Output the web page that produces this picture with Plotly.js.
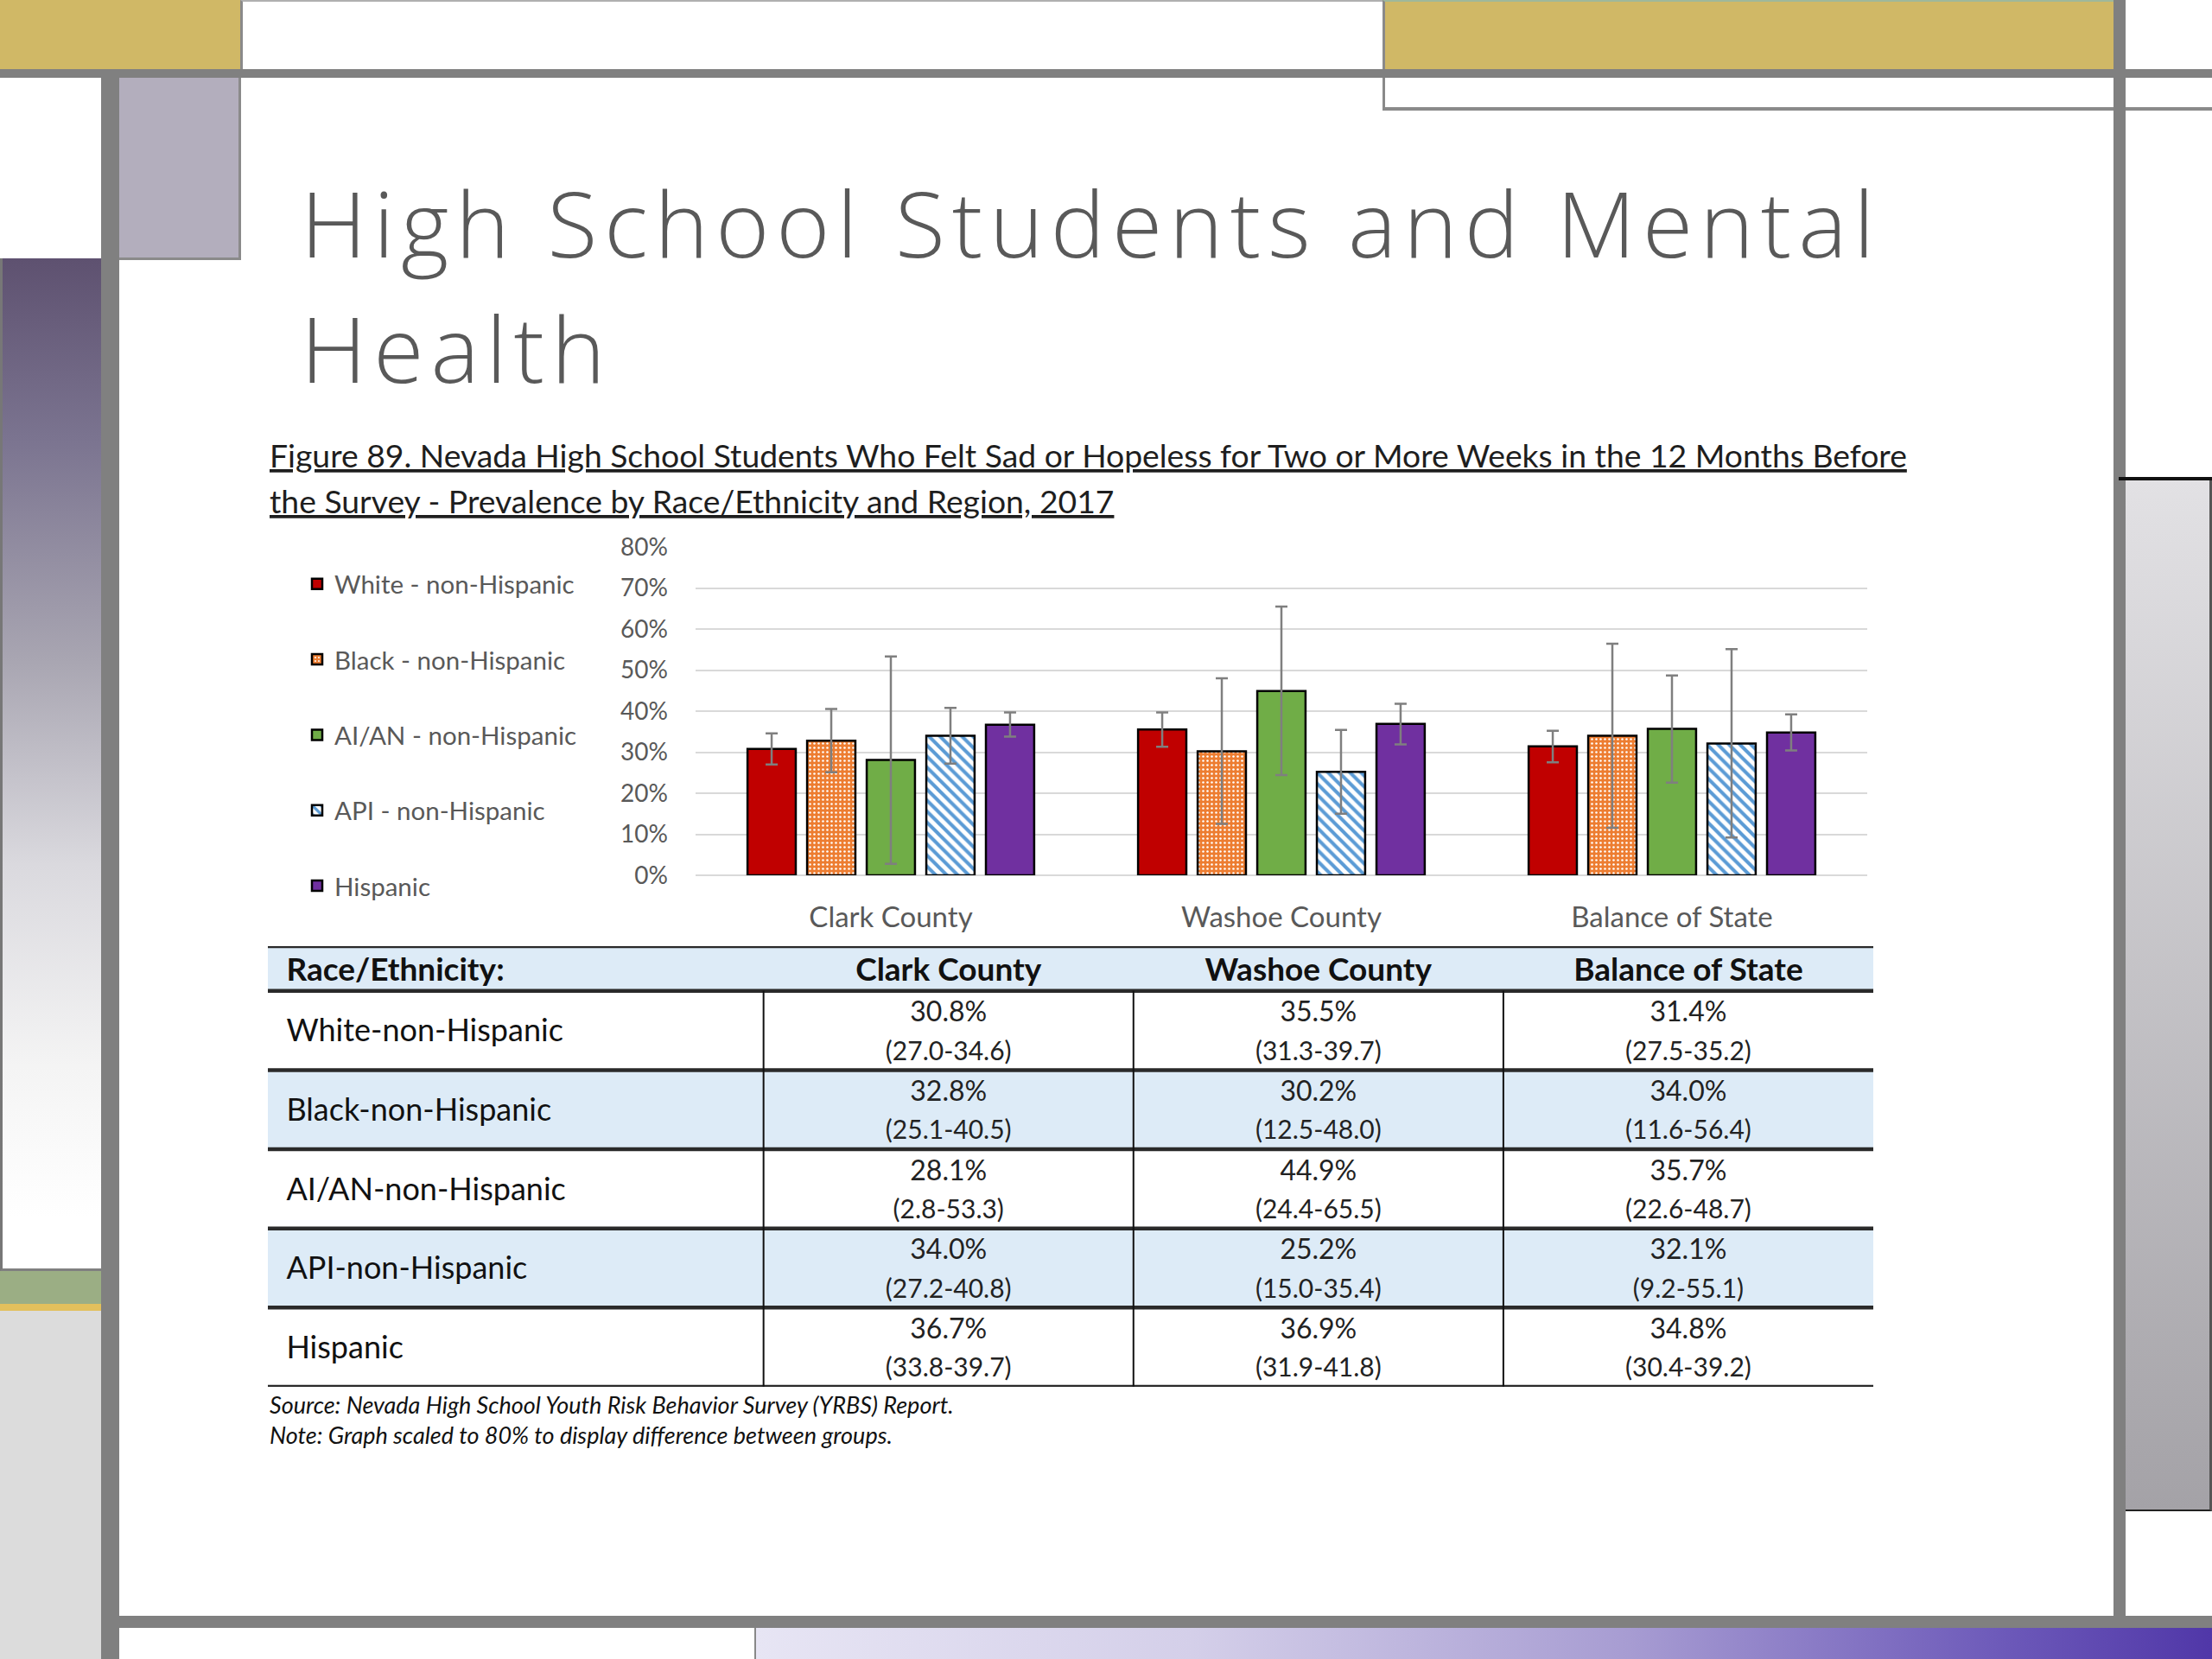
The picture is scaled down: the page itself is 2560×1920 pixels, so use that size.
<!DOCTYPE html>
<html><head><meta charset="utf-8">
<script src="https://cdn.plot.ly/plotly-3.0.1.min.js"></script>
<style>
html,body{margin:0;padding:0;background:#fff;}
#stage{position:relative;width:2560px;height:1920px;overflow:hidden;background:#fff;}
.d{position:absolute;box-sizing:border-box;}
#chart{position:absolute;left:0;top:0;width:2560px;height:1920px;z-index:5;}
#chart g.annotation[data-index="0"] text.annotation-text{letter-spacing:8px;}
</style></head><body>
<div id="stage">
<div class="d" style="left:0;top:0;width:278px;height:80px;background:#D0B866;"></div>
<div class="d" style="left:278px;top:0;width:1322px;height:80px;background:#fff;border-top:2px solid #b0b0b0;border-left:3px solid #8a8a8a;"></div>
<div class="d" style="left:1600px;top:0;width:846px;height:80px;background:#D0B866;border-left:3px solid #8a8a8a;border-top:2px solid #9fb89a;"></div>
<div class="d" style="left:0;top:80px;width:2560px;height:10px;background:#808080;"></div>
<div class="d" style="left:1600px;top:90px;width:960px;height:38px;border-left:3px solid #8a8a8a;border-bottom:4px solid #8a8a8a;"></div>
<div class="d" style="left:138px;top:90px;width:141px;height:211px;background:#B3AEBD;border-right:3px solid #8a8a8a;border-bottom:3px solid #8a8a8a;"></div>
<div class="d" style="left:0;top:299px;width:117px;height:1172px;background:linear-gradient(to bottom,#5E5170 0%,#7B7490 18%,#A9A6B2 40%,#DAD9DE 60%,#F4F4F4 80%,#FFFFFF 95%);border-left:3px solid #777;border-bottom:3px solid #808080;"></div>
<div class="d" style="left:0;top:1471px;width:117px;height:38px;background:#9BAE84;"></div>
<div class="d" style="left:0;top:1509px;width:128px;height:8px;background:#E2C05C;"></div>
<div class="d" style="left:0;top:1517px;width:117px;height:403px;background:#DCDCDC;"></div>
<div class="d" style="left:117px;top:90px;width:21px;height:1830px;background:#808080;"></div>
<div class="d" style="left:2446px;top:0;width:14px;height:1884px;background:#808080;"></div>
<div class="d" style="left:2452px;top:552px;width:108px;height:4px;background:#111;"></div>
<div class="d" style="left:2460px;top:556px;width:100px;height:1193px;background:linear-gradient(to bottom,#E2E1E4,#A4A2A7);border-right:3px solid #555;border-bottom:2px solid #222;"></div>
<div class="d" style="left:117px;top:1870px;width:2443px;height:14px;background:#808080;"></div>
<div class="d" style="left:873px;top:1884px;width:1687px;height:36px;background:linear-gradient(to right,#E7E5F4 0%,#D4CFE9 30%,#A79CD2 60%,#6E5BBA 85%,#5037A8 100%);border-left:2px solid #888;"></div>
<div id="chart"></div>
</div>
<script>
// ---------------- DATA ----------------
const regions = ['Clark County', 'Washoe County', 'Balance of State'];
const groupNames = ['White - non-Hispanic', 'Black - non-Hispanic', 'AI/AN - non-Hispanic', 'API - non-Hispanic', 'Hispanic'];
const tableRowLabels = ['White-non-Hispanic', 'Black-non-Hispanic', 'AI/AN-non-Hispanic', 'API-non-Hispanic', 'Hispanic'];
const tableFirstHeader = 'Race/Ethnicity:';

const whiteVals = [30.8, 35.5, 31.4];
const whiteLow  = [27.0, 31.3, 27.5];
const whiteHigh = [34.6, 39.7, 35.2];

const blackVals = [32.8, 30.2, 34.0];
const blackLow  = [25.1, 12.5, 11.6];
const blackHigh = [40.5, 48.0, 56.4];

const aianVals = [28.1, 44.9, 35.7];
const aianLow  = [2.8, 24.4, 22.6];
const aianHigh = [53.3, 65.5, 48.7];

const apiVals = [34.0, 25.2, 32.1];
const apiLow  = [27.2, 15.0, 9.2];
const apiHigh = [40.8, 35.4, 55.1];

const hispVals = [36.7, 36.9, 34.8];
const hispLow  = [33.8, 31.9, 30.4];
const hispHigh = [39.7, 41.8, 39.2];

const titleLines = ['High School Students and Mental', 'Health'];
const captionLines = ['Figure 89. Nevada High School Students Who Felt Sad or Hopeless for Two or More Weeks in the 12 Months Before',
                      'the Survey - Prevalence by Race/Ethnicity and Region, 2017'];
const noteLines = ['Source: Nevada High School Youth Risk Behavior Survey (YRBS) Report.',
                   'Note: Graph scaled to 80% to display difference between groups.'];

// ---------------- STYLE ----------------
const FONT = 'Lato, "Open Sans", "Liberation Sans", sans-serif';
const TITLE_FONT = '"Open Sans", Lato, sans-serif';
const series = [
  {vals: whiteVals, low: whiteLow, high: whiteHigh},
  {vals: blackVals, low: blackLow, high: blackHigh},
  {vals: aianVals,  low: aianLow,  high: aianHigh},
  {vals: apiVals,   low: apiLow,   high: apiHigh},
  {vals: hispVals,  low: hispLow,  high: hispHigh}
];
const styles = [
  {color: '#C00000'},
  {color: '#ED7D31', pattern: {shape: '.', fgcolor: '#FFFFFF', bgcolor: '#ED7D31', size: 5, solidity: 0.2}},
  {color: '#70AD47'},
  {color: '#FFFFFF', pattern: {shape: '\\', fgcolor: '#5B9BD5', bgcolor: '#FFFFFF', size: 9, solidity: 0.45}},
  {color: '#7030A0'}
];

const traces = [];
series.forEach((s, k) => {
  const marker = {color: styles[k].color, line: {color: '#000000', width: 2.5}};
  if (styles[k].pattern) marker.pattern = styles[k].pattern;
  traces.push({
    type: 'bar', name: groupNames[k], x: regions, y: s.vals,
    legendgroup: 'g' + k,
    marker: marker,
    error_y: {type: 'data', symmetric: false,
      array: s.vals.map((v, i) => +(s.high[i] - v).toFixed(2)),
      arrayminus: s.vals.map((v, i) => +(v - s.low[i]).toFixed(2)),
      color: '#7F7F7F', thickness: 2.5, width: 7},
    xaxis: 'x', yaxis: 'y', hoverinfo: 'skip'
  });
});

// ---------------- TABLE (on its own hidden axes) ----------------
const LABEL_LEFT = -0.84;      // left edge of label column (column units)
const HEADER_TOP = -0.065;     // top of header (row units)
const VAL_OFF = -0.2;          // vertical offset of value line in a row
const CI_OFF = 0.29;           // vertical offset of interval line in a row
const LABEL_OFF = 0.04;
const rowIdx = tableRowLabels.map((_, i) => i + 1);
const headerY = (HEADER_TOP + 0.5) / 2 + 0.05;
const fmt = v => v.toFixed(1);

traces.push({
  type: 'scatter', mode: 'text', xaxis: 'x2', yaxis: 'y2', showlegend: false, hoverinfo: 'skip', cliponaxis: false,
  x: [LABEL_LEFT + 0.05], y: [headerY], text: ['<b>' + tableFirstHeader + '</b>'],
  textposition: 'middle right', textfont: {family: FONT, size: 37, color: '#111111'}
});
traces.push({
  type: 'scatter', mode: 'text', xaxis: 'x2', yaxis: 'y2', showlegend: false, hoverinfo: 'skip', cliponaxis: false,
  x: regions.map((_, j) => j + 1), y: regions.map(() => headerY), text: regions.map(r => '<b>' + r + '</b>'),
  textposition: 'middle center', textfont: {family: FONT, size: 37, color: '#111111'}
});
traces.push({
  type: 'scatter', mode: 'text', xaxis: 'x2', yaxis: 'y2', showlegend: false, hoverinfo: 'skip', cliponaxis: false,
  x: rowIdx.map(() => LABEL_LEFT + 0.05), y: rowIdx.map(i => i + LABEL_OFF), text: tableRowLabels,
  textposition: 'middle right', textfont: {family: FONT, size: 36, color: '#111111'}
});
const vx = [], vy = [], vt = [], cx = [], cy = [], ct = [];
series.forEach((s, i) => {
  regions.forEach((r, j) => {
    vx.push(j + 1); vy.push(i + 1 + VAL_OFF); vt.push(fmt(s.vals[j]) + '%');
    cx.push(j + 1); cy.push(i + 1 + CI_OFF); ct.push('(' + fmt(s.low[j]) + '-' + fmt(s.high[j]) + ')');
  });
});
traces.push({type: 'scatter', mode: 'text', xaxis: 'x2', yaxis: 'y2', showlegend: false, hoverinfo: 'skip', cliponaxis: false,
  x: vx, y: vy, text: vt, textposition: 'middle center', textfont: {family: FONT, size: 32, color: '#222222'}});
traces.push({type: 'scatter', mode: 'text', xaxis: 'x2', yaxis: 'y2', showlegend: false, hoverinfo: 'skip', cliponaxis: false,
  x: cx, y: cy, text: ct, textposition: 'middle center', textfont: {family: FONT, size: 30, color: '#222222'}});

const shapes = [];
const TABLE_RIGHT = regions.length + 0.5;
const BAND = '#DDEBF7';
shapes.push({type: 'rect', xref: 'x2', yref: 'y2', x0: LABEL_LEFT, x1: TABLE_RIGHT, y0: HEADER_TOP, y1: 0.5, fillcolor: BAND, line: {width: 0}, layer: 'below'});
rowIdx.forEach(i => {
  if (i % 2 === 0) shapes.push({type: 'rect', xref: 'x2', yref: 'y2', x0: LABEL_LEFT, x1: TABLE_RIGHT, y0: i - 0.5, y1: i + 0.5, fillcolor: BAND, line: {width: 0}, layer: 'below'});
});
[HEADER_TOP, 0.5].concat(rowIdx.map(i => i + 0.5)).forEach(yv => {
  shapes.push({type: 'line', xref: 'x2', yref: 'y2', x0: LABEL_LEFT, x1: TABLE_RIGHT, y0: yv, y1: yv, line: {color: '#2a2a2a', width: 4.5}, layer: 'below'});
});
regions.forEach((r, j) => {
  shapes.push({type: 'line', xref: 'x2', yref: 'y2', x0: j + 0.5, x1: j + 0.5, y0: 0.5, y1: rowIdx.length + 0.55, line: {color: '#111111', width: 2}, layer: 'below'});
});

// ---------------- ANNOTATIONS ----------------
const px = v => v / 2560, py = v => 1 - v / 1920;
const annotations = [
  {text: titleLines.map(t => '<span style="font-size:106px">' + t + '</span>').join('<br>'),
   x: px(346), y: py(329), xref: 'paper', yref: 'paper', xanchor: 'left', yanchor: 'middle', align: 'left', showarrow: false,
   font: {family: TITLE_FONT, size: 111.5, color: '#595959', weight: 300}},
  {text: '<u>' + captionLines[0] + '</u>', x: px(310), y: py(526), xref: 'paper', yref: 'paper', xanchor: 'left', yanchor: 'middle', showarrow: false,
   font: {family: FONT, size: 37.3, color: '#1e1e1e'}},
  {text: '<u>' + captionLines[1] + '</u>', x: px(310), y: py(580), xref: 'paper', yref: 'paper', xanchor: 'left', yanchor: 'middle', showarrow: false,
   font: {family: FONT, size: 37.3, color: '#1e1e1e'}},
  {text: '<i>' + noteLines[0] + '</i><br><i>' + noteLines[1] + '</i>', x: px(310), y: py(1643), xref: 'paper', yref: 'paper', xanchor: 'left', yanchor: 'middle', align: 'left', showarrow: false,
   font: {family: FONT, size: 27, color: '#111111'}}
];

const layout = {
  width: 2560, height: 1920,
  margin: {l: 0, r: 0, t: 0, b: 0, pad: 0},
  paper_bgcolor: 'rgba(0,0,0,0)', plot_bgcolor: 'rgba(0,0,0,0)',
  font: {family: FONT, color: '#595959'},
  barmode: 'group', bargap: 0.237, bargroupgap: 0.19,
  showlegend: true,
  legend: {x: px(347), xanchor: 'left', y: py(650), yanchor: 'top', bgcolor: 'rgba(0,0,0,0)',
           font: {family: FONT, size: 29.5, color: '#595959'}, tracegroupgap: 46, traceorder: 'grouped'},
  xaxis: {domain: [px(805), px(2161)], type: 'category', showgrid: false, zeroline: false, showline: false, ticks: '',
          tickfont: {family: FONT, size: 33, color: '#595959'}, ticklabelstandoff: 26, fixedrange: true},
  yaxis: {domain: [py(1013), py(633)], range: [0, 80], dtick: 10, ticksuffix: '%', showgrid: true, gridcolor: '#D9D9D9', gridwidth: 2,
          zeroline: true, zerolinecolor: '#D9D9D9', zerolinewidth: 2, showline: false, ticks: '',
          tickfont: {family: FONT, size: 28, color: '#595959'}, ticklabelstandoff: 31, fixedrange: true},
  xaxis2: {domain: [px(310), px(2168)], range: [LABEL_LEFT, TABLE_RIGHT], visible: false, fixedrange: true},
  yaxis2: {domain: [py(1605), py(1095)], range: [rowIdx.length + 0.5, HEADER_TOP], visible: false, fixedrange: true},
  shapes: shapes,
  annotations: annotations
};

Plotly.newPlot('chart', traces, layout, {staticPlot: true, displayModeBar: false});
</script>
</body></html>
